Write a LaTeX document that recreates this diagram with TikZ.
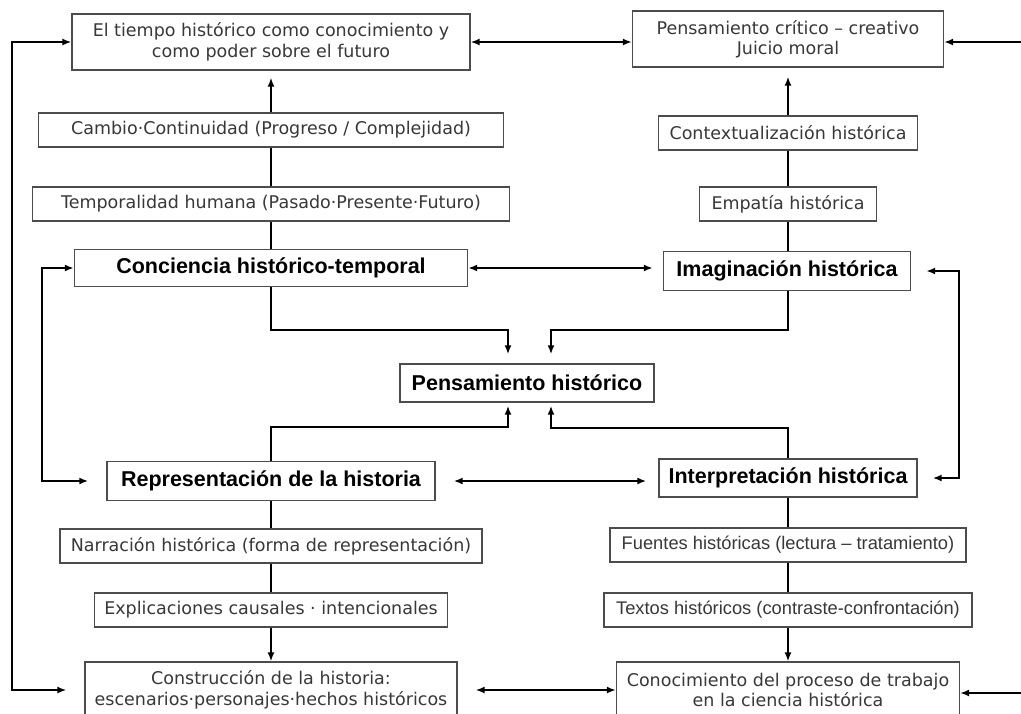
\documentclass[tikz,border=0pt]{standalone}
\usepackage{fontspec}
\setmainfont{DejaVu Sans}
\newfontfamily\arialfont{Liberation Sans}
\usetikzlibrary{arrows.meta}

\begin{document}
\begin{tikzpicture}[x=1pt,y=-1pt,
    box/.style={draw=boxline, line width=1.2pt, fill=white, inner sep=0pt, align=center,
      text=textgray, font=\fontsize{17.5}{20.5}\selectfont},
    narrowbox/.style={box, font=\arialfont\fontsize{18.3}{20}\selectfont},
    keybox/.style={box, line width=1.4pt, text=black, font=\arialfont\fontsize{21.5}{24}\selectfont\bfseries},
    link/.style={black, line width=1.9pt},
    arr/.style={link, -{Latex[length=9pt,width=7pt]}},
    dbl/.style={link, {Latex[length=9pt,width=7pt]}-{Latex[length=9pt,width=7pt]}}]
  \colorlet{boxline}{black!70}
  \colorlet{textgray}{black!78}

  \useasboundingbox (0,0) rectangle (1021,713);
  \clip (0,0) rectangle (1021,713);

  % left column
  \node[box, minimum width=398, minimum height=56] (tiempo) at (271,42) {El tiempo histórico como conocimiento y\\como poder sobre el futuro};
  \node[box, minimum width=465, minimum height=34] (cambio) at (271,130) {Cambio·Continuidad (Progreso / Complejidad)};
  \node[box, minimum width=477, minimum height=34] (temporal) at (271,204) {Temporalidad humana (Pasado·Presente·Futuro)};
  \node[keybox, minimum width=393, minimum height=37] (conciencia) at (271,268) {Conciencia histórico-temporal};
  \node[keybox, minimum width=328, minimum height=39] (representacion) at (271,481) {Representación de la historia};
  \node[box, minimum width=422, minimum height=34] (narracion) at (271,546) {Narración histórica (forma de representación)};
  \node[box, minimum width=353, minimum height=34] (explicaciones) at (271,610) {Explicaciones causales · intencionales};
  \node[box, minimum width=372, minimum height=56] (construccion) at (271,690) {Construcción de la historia:\\escenarios·personajes·hechos históricos};

  % right column
  \node[box, minimum width=311, minimum height=56] (critico) at (788,39) {Pensamiento crítico – creativo\\Juicio moral};
  \node[box, minimum width=259, minimum height=34] (contexto) at (788,133) {Contextualización histórica};
  \node[box, minimum width=177, minimum height=34] (empatia) at (788,204) {Empatía histórica};
  \node[keybox, minimum width=247, minimum height=39] (imaginacion) at (787,271) {Imaginación histórica};
  \node[keybox, minimum width=258, minimum height=38] (interpretacion) at (788,478) {Interpretación histórica};
  \node[narrowbox, minimum width=356, minimum height=34] (fuentes) at (788,545) {Fuentes históricas (lectura – tratamiento)};
  \node[narrowbox, minimum width=368, minimum height=34] (textos) at (788,610) {Textos históricos (contraste-confrontación)};
  \node[box, minimum width=343, minimum height=56] (conocimiento) at (788,690) {Conocimiento del proceso de trabajo\\en la ciencia histórica};

  % centre
  \node[keybox, minimum width=254, minimum height=38] (pensamiento) at (527,383) {Pensamiento histórico};

  \coordinate (edgetop) at (1021,42);
  \coordinate (edgebot) at (1021,693);

  % chains
  \draw[link] (conciencia) -- (temporal) -- (cambio);
  \draw[arr, shorten >=7pt] (cambio.north) -- (tiempo.south);
  \draw[link] (imaginacion.north -| empatia) -- (empatia) -- (contexto);
  \draw[arr, shorten >=9pt] (contexto.north) -- (critico.south);
  \draw[link] (representacion) -- (narracion) -- (explicaciones);
  \draw[arr] (explicaciones.south) -- (construccion.north);
  \draw[link] (interpretacion) -- (fuentes) -- (textos);
  \draw[arr] (textos.south) -- (conocimiento.north);

  % into and out of the centre
  \draw[arr, shorten >=9pt] (conciencia.south) -- ++(0,43) -| ([xshift=-19]pensamiento.north);
  \draw[arr, shorten >=9pt] (imaginacion.south -| empatia) -- ++(0,39) -| ([xshift=24]pensamiento.north);
  \draw[arr, shorten >=3pt] (representacion.north) -- ++(0,-34) -| ([xshift=-19]pensamiento.south);
  \draw[arr, shorten >=3pt] (interpretacion.north) -- ++(0,-30) -| ([xshift=24]pensamiento.south);

  % crossings
  \draw[dbl] (tiempo.east) -- (tiempo.east -| critico.west);
  \draw[arr] (edgetop) -- (edgetop -| critico.east);
  \draw[dbl, shorten >=10pt] (conciencia.east) -- (conciencia.east -| imaginacion.west);
  \draw[dbl, shorten <=18pt, shorten >=12pt] (representacion.east) -- (representacion.east -| interpretacion.west);
  \draw[dbl, shorten <=18pt] (construccion.east) -- (construccion.east -| conocimiento.west);
  \draw[arr] (edgebot) -- (edgebot -| conocimiento.east);

  % loops
  \draw[dbl, shorten <=18pt] (representacion.west) -- ++(-64,0) |- (conciencia.west);
  \draw[dbl, shorten <=18pt] (construccion.west) -- ++(-72,0) |- (tiempo.west);
  \draw[dbl, shorten <=15pt, shorten >=15pt] (imaginacion.east) -- ++(48,0) |- (interpretacion.east);
\end{tikzpicture}
\end{document}
